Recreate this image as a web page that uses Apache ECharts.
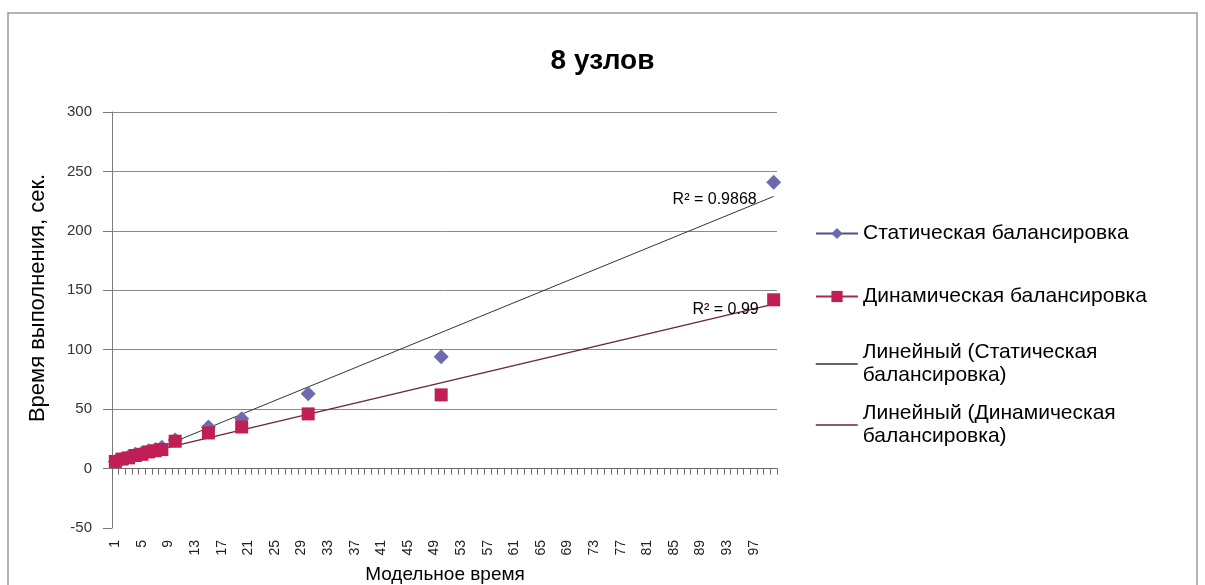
<!DOCTYPE html>
<html>
<head>
<meta charset="utf-8">
<script src="https://cdn.jsdelivr.net/npm/echarts@6/dist/echarts.min.js"></script>
<style>html,body{margin:0;padding:0;background:#fff}#c{width:1205px;height:585px}</style>
</head>
<body>
<div id="c"></div>
<script>
// ---- data ----
const titleText = '8 узлов';
const xAxisTitle = 'Модельное время';
const yAxisTitle = 'Время выполнения, сек.';
const seriesNames = ['Статическая балансировка', 'Динамическая балансировка'];
const trendNames = ['Линейный (Статическая\nбалансировка)', 'Линейный (Динамическая\nбалансировка)'];
const categoryCount = 100;
const xPoints = [1, 2, 3, 4, 5, 6, 7, 8, 10, 15, 20, 30, 50, 100];
const staticVals = [6, 8, 10, 12, 13, 15, 16, 18, 24, 35, 42, 63, 94, 241];
const dynamicVals = [6, 8, 9, 11, 12, 14, 15, 16, 23, 30, 35, 46, 62, 142];
const r2Labels = ['R\u00B2 = 0.9868', 'R\u00B2 = 0.99'];
const yTicks = { min: -50, max: 300, interval: 50 };

// ---- build ----
const categories = [];
for (let i = 1; i <= categoryCount; i++) categories.push(String(i));

function toSeries(vals) {
  const arr = new Array(categoryCount).fill('-');
  xPoints.forEach((x, i) => { arr[x - 1] = vals[i]; });
  return arr;
}
function trend(vals) {
  const n = xPoints.length;
  let sx = 0, sy = 0, sxx = 0, sxy = 0;
  for (let i = 0; i < n; i++) {
    sx += xPoints[i]; sy += vals[i];
    sxx += xPoints[i] * xPoints[i]; sxy += xPoints[i] * vals[i];
  }
  const b = (n * sxy - sx * sy) / (n * sxx - sx * sx);
  const a = (sy - b * sx) / n;
  const arr = new Array(categoryCount).fill('-');
  arr[0] = a + b * 1;
  arr[categoryCount - 1] = a + b * categoryCount;
  return arr;
}
const tS = trend(staticVals), tD = trend(dynamicVals);

const FONT = '"Liberation Sans", Arial, sans-serif';
const staticColor = '#6E6AAE', staticLine = '#4E4E82';
const dynColor = '#C01E55', dynLine = '#A8294E';
const trendSColor = '#333333', trendDColor = '#6A2434';

const chart = echarts.init(document.getElementById('c'), null, { renderer: 'canvas' });
const legendBase = {
  orient: 'vertical', left: 810, itemWidth: 42, itemHeight: 14, itemGap: 5,
  textStyle: { fontFamily: FONT, fontSize: 21, color: '#000', lineHeight: 23 },
  selectedMode: false
};
const hiddenSymbol = { color: 'rgba(0,0,0,0)', borderWidth: 0, borderColor: 'rgba(0,0,0,0)' };
chart.setOption({
  animation: false,
  backgroundColor: '#fff',
  title: {
    text: titleText, left: 'center', top: 42,
    textStyle: { fontFamily: FONT, fontSize: 28, fontWeight: 'bold', color: '#000' }
  },
  legend: [
    Object.assign({}, legendBase, { top: 217, data: [seriesNames[0]] }),
    Object.assign({}, legendBase, { top: 280, data: [seriesNames[1]] }),
    Object.assign({}, legendBase, { top: 336, data: [{ name: trendNames[0], itemStyle: hiddenSymbol, lineStyle: { color: trendSColor, width: 1.5 } }] }),
    Object.assign({}, legendBase, { top: 397, data: [{ name: trendNames[1], itemStyle: hiddenSymbol, lineStyle: { color: trendDColor, width: 1.5 } }] })
  ],
  grid: { left: 112, right: 428, top: 112, bottom: 57, containLabel: false },
  xAxis: {
    type: 'category', data: categories, boundaryGap: true,
    axisLine: { onZero: true, lineStyle: { color: '#6a6a6a', width: 1 } },
    axisTick: { show: true, interval: 0, length: 6, lineStyle: { color: '#6a6a6a' } },
    axisLabel: { interval: 3, rotate: 90, margin: 12, fontFamily: FONT, fontSize: 14, color: '#222' },
    splitLine: { show: false }
  },
  yAxis: {
    type: 'value', min: yTicks.min, max: yTicks.max, interval: yTicks.interval,
    axisLine: { show: true, lineStyle: { color: '#7a7a7a', width: 1 } },
    axisTick: { show: true, length: 9, lineStyle: { color: '#7a7a7a' } },
    axisLabel: { margin: 20, fontFamily: FONT, fontSize: 15, color: '#333' },
    splitLine: { show: true, lineStyle: { color: ['rgba(0,0,0,0)', '#8a8a8a', '#8a8a8a', '#8a8a8a', '#8a8a8a', '#8a8a8a', '#8a8a8a', '#8a8a8a'], width: 1 } }
  },
  graphic: [
    { type: 'rect', shape: { x: 8, y: 13, width: 1189, height: 600 }, style: { fill: 'none', stroke: '#9a9a9a', lineWidth: 1.5 }, silent: true, z: -10 },
    { type: 'text', x: 38, y: 298, rotation: Math.PI / 2,
      style: { text: yAxisTitle, fontFamily: FONT, fontSize: 22, fill: '#000', align: 'center', verticalAlign: 'middle' } },
    { type: 'text', x: 445, y: 575,
      style: { text: xAxisTitle, fontFamily: FONT, fontSize: 19, fill: '#000', align: 'center', verticalAlign: 'middle' } }
  ],
  series: [
    {
      name: trendNames[0], type: 'line', data: tS, connectNulls: true, symbol: 'none',
      lineStyle: { color: trendSColor, width: 1 }, itemStyle: { color: trendSColor }, z: 2,
      markPoint: {
        symbol: 'circle', symbolSize: 0, silent: true,
        data: [{ coord: [categoryCount - 1, tS[categoryCount - 1]] }],
        label: { show: true, formatter: r2Labels[0], position: 'left', distance: 17, offset: [0, 3],
          fontFamily: FONT, fontSize: 16, color: '#000' }
      }
    },
    {
      name: trendNames[1], type: 'line', data: tD, connectNulls: true, symbol: 'none',
      lineStyle: { color: trendDColor, width: 1.3 }, itemStyle: { color: trendDColor }, z: 2,
      markPoint: {
        symbol: 'circle', symbolSize: 0, silent: true,
        data: [{ coord: [categoryCount - 1, tD[categoryCount - 1]] }],
        label: { show: true, formatter: r2Labels[1], position: 'left', distance: 15, offset: [0, 6],
          fontFamily: FONT, fontSize: 16, color: '#000' }
      }
    },
    {
      name: seriesNames[0], type: 'line', data: toSeries(staticVals), connectNulls: false,
      symbol: 'diamond', symbolSize: 15, showAllSymbol: true,
      lineStyle: { color: staticLine, width: 2 }, itemStyle: { color: staticColor }, z: 3
    },
    {
      name: seriesNames[1], type: 'line', data: toSeries(dynamicVals), connectNulls: false,
      symbol: 'rect', symbolSize: 13, showAllSymbol: true,
      lineStyle: { color: dynLine, width: 2 }, itemStyle: { color: dynColor }, z: 4
    }
  ]
});
</script>
</body>
</html>
